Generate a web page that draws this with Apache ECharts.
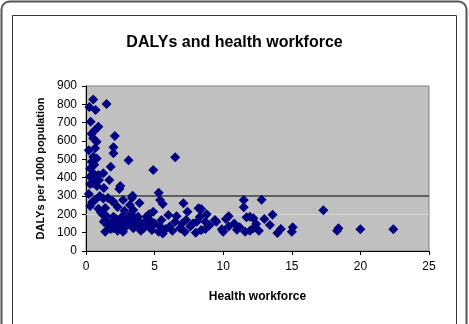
<!DOCTYPE html>
<html><head><meta charset="utf-8">
<script src="https://cdn.jsdelivr.net/npm/echarts@6/dist/echarts.min.js"></script>
<style>html,body{margin:0;padding:0;background:#fff}#c{width:469px;height:324px}</style>
</head><body><div id="c"></div>
<script>
const titleText = 'DALYs and health workforce';
const xTitle = 'Health workforce';
const yTitle = 'DALYs per 1000 population';
const refLines = [300];
const faintLines = [200];
const workforce = [
0.53,1.5,0.24,0.7,0.34,0.9,0.66,2.1,0.53,0.78,2.0,0.66,2.0,0.53,3.1,6.5,0.41,0.78,1.8,4.9,0.53,1.26,0.66,0.3,0.9,0.5,0.95,1.7,0.3,0.8,1.3,2.5,2.43,0.2,5.3,3.4,0.4,0.2,0.3,0.6,
0.3,0.66,1.26,2.0,2.7,3.2,3.45,5.6,7.1,7.4,8.2,0.45,1.6,3.35,1.9,1.4,2.3,5.4,3.9,4.9,11.5,11.5,12.8,17.3,8.4,8.8,1.0,0.9,2.8,1.1,
1.4,1.75,2.0,2.24,2.6,2.97,3.45,3.8,4.2,4.66,5.3,5.5,6.0,6.1,6.5,6.85,7.3,7.6,8.07,8.4,1.4,2.0,2.7,5.6,5.4,4.2,4.4,8.3,8.7,8.7,9.4,9.5,9.9,10.0,10.4,10.4,11.0,11.6,11.95,12.2,11.7,11.95,12.2,12.4,13.0,13.4,13.6,13.95,14.2,15.0,15.07,18.3,18.4,20.0,22.4,
1.6,1.9,2.2,2.5,2.8,3.0,3.2,3.6,3.9,4.0,4.5,4.8,5.0,5.8,6.3,7.0,7.8,9.0,10.8,1.2,1.5,2.3,3.3,4.6,6.6,7.2,10.2,12.6,8.0,11.2,
1.8,2.6,3.4,4.1,1.3,2.9
];
const dalys = [
827,802,786,769,705,678,660,627,615,596,566,560,533,514,495,511,487,505,460,442,424,424,397,405,415,369,387,387,365,355,344,355,338,311,318,302,640,550,450,470,
245,278,287,269,278,251,224,256,260,214,233,267,289,289,273,235,240,278,262,214,278,238,280,222,229,200,300,230,220,210,
169,151,187,133,169,142,124,187,151,169,105,169,196,133,160,124,169,133,160,115,105,124,105,96,133,124,187,187,160,120,169,160,118,105,133,189,116,105,111,124,184,187,178,147,175,142,198,98,120,105,129,111,124,118,118,
140,160,175,150,125,180,155,140,160,110,140,115,150,120,110,150,150,140,150,200,190,110,200,200,190,105,175,110,100,130,
120,185,170,130,160,165
];
const points = workforce.map((x, i) => [x, dalys[i]]);
const font = 'Liberation Sans, Arial, sans-serif';
const chart = echarts.init(document.getElementById('c'), null, {renderer: 'canvas'});
chart.setOption({
  animation: false,
  backgroundColor: '#fff',
  graphic: [
    {type: 'rect', shape: {x: 1.5, y: 1.5, width: 465, height: 340, r: 8}, style: {fill: 'none', stroke: '#555', lineWidth: 2}, silent: true},
    {type: 'rect', shape: {x: 12.5, y: 15.5, width: 444, height: 330}, style: {fill: 'none', stroke: '#333', lineWidth: 1}, silent: true}
  ],
  title: {text: titleText, left: 'center', top: 30, textStyle: {fontFamily: font, fontSize: 16, fontWeight: 'bold', color: '#000'}},
  grid: {left: 86, right: 40, top: 86, bottom: 73, show: true, backgroundColor: '#c0c0c0', borderColor: '#808080', borderWidth: 1},
  xAxis: {
    type: 'value', min: 0, max: 25, interval: 5,
    name: xTitle, nameLocation: 'middle', nameGap: 40,
    nameTextStyle: {fontFamily: font, fontSize: 12, fontWeight: 'bold', color: '#000'},
    axisLine: {show: true, onZero: false, lineStyle: {color: '#000', width: 1}},
    axisTick: {show: true, length: 4, lineStyle: {color: '#000'}},
    axisLabel: {fontFamily: font, fontSize: 12, color: '#000', margin: 10},
    splitLine: {show: false}
  },
  yAxis: {
    type: 'value', min: 0, max: 900, interval: 100,
    name: yTitle, nameLocation: 'middle', nameGap: 40,
    nameTextStyle: {fontFamily: font, fontSize: 11, fontWeight: 'bold', color: '#000'},
    axisLine: {show: true, lineStyle: {color: '#000', width: 1}},
    axisTick: {show: true, length: 4, lineStyle: {color: '#000'}},
    axisLabel: {fontFamily: font, fontSize: 12, color: '#000', margin: 9},
    splitLine: {show: false}
  },
  series: [{
    type: 'scatter',
    data: points,
    symbol: 'diamond',
    symbolSize: 10,
    itemStyle: {color: '#000080', opacity: 1},
    markLine: {
      silent: true, symbol: 'none', label: {show: false}, z: 1,
      data: faintLines.map(v => ({yAxis: v, lineStyle: {color: '#d6d6d6', width: 1, type: 'solid'}}))
        .concat(refLines.map(v => ({yAxis: v, lineStyle: {color: '#404040', width: 1.5, type: 'solid'}})))
    },
    z: 3
  }]
});
</script></body></html>
